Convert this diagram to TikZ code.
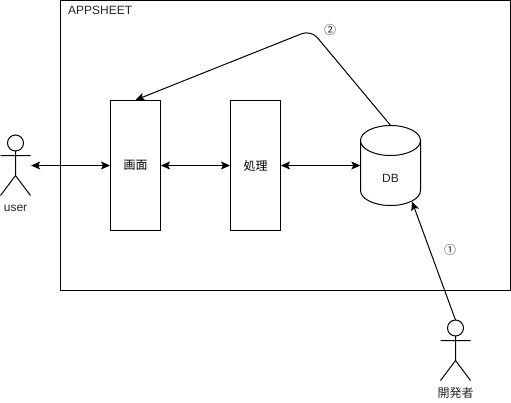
\documentclass[tikz,border=0pt]{standalone}
\usepackage{fontspec}
\setmainfont{Liberation Sans}
\newfontfamily\cjk{Noto Sans CJK JP}
\usetikzlibrary{arrows.meta}
\tikzset{
  box/.style={draw=black,line width=1pt,minimum width=50pt,minimum height=130pt,inner sep=0pt,font=\fontsize{12}{14}\selectfont\cjk},
  ghost/.style={inner sep=0pt,minimum width=#1},
  lbl/.style={inner sep=0pt,text=black!85,font=\fontsize{12}{14}\selectfont},
  cjklbl/.style={inner sep=0pt,text=black!85,font=\fontsize{12}{14}\selectfont\cjk},
  conn/.style={line width=1pt,draw=black},
  tip/.style={-{Stealth[length=9pt,width=8pt,inset=2pt]}},
  both/.style={{Stealth[length=9pt,width=8pt,inset=2pt]}-{Stealth[length=9pt,width=8pt,inset=2pt]}},
  figure/.style={line width=1pt,draw=black}
}
\begin{document}
\begin{tikzpicture}[x=1pt,y=-1pt]
\useasboundingbox (0,0) rectangle (511,402);
\fill[white] (0,0) rectangle (511,402);
% frame
\node[draw=black,line width=1pt,outer sep=0pt,minimum width=450pt,minimum height=290pt,inner sep=0pt,anchor=north west] (frame) at (60.5,0.5) {};
\node[lbl,anchor=west] (app) at (68,10) {APPSHEET};
% boxes
\node[box] (gamen) at (135.5,165.5) {画面};
\node[box] (shori) at (255.5,165.5) {処理};
% DB
\node[ghost=60pt,minimum height=80pt,lbl] (db) at (390.5,165.5) {};
\node[lbl] (dbl) at (390.5,178.5) {DB};
\draw[figure] (360.5,140.5) arc[start angle=180,end angle=360,x radius=30,y radius=15]
  (360.5,140.5) arc[start angle=180,end angle=0,x radius=30,y radius=15]
  -- (420.5,190.5) arc[start angle=0,end angle=180,x radius=30,y radius=15] -- cycle;
% actor user
\node[ghost=30pt,minimum height=65pt] (user) at (15.5,163) {};
\draw[figure] (15.5,143) circle[radius=8];
\draw[figure] (15.5,151) -- (15.5,175.5) (0.5,155.5) -- (30.5,155.5) (0.5,195.5) -- (15.5,175.5) -- (30.5,195.5);
\node[lbl] (userl) at (15.5,208.5) {user};
% actor dev
\node[ghost=30pt,minimum height=60pt,anchor=north] (dev) at (455.5,320) {};
\draw[figure] (455.5,328) circle[radius=8];
\draw[figure] (455.5,336) -- (455.5,360.5) (440.5,340.5) -- (470.5,340.5) (440.5,380.5) -- (455.5,360.5) -- (470.5,380.5);
\node[cjklbl] (devl) at (455.5,393) {開発者};
% connectors
\coordinate (uE) at (user.east |- gamen.west);
\coordinate (dbW) at (db.west |- gamen.west);
\coordinate (dbS) at (412,201.5);
\coordinate (bend) at (311,30);
\draw[conn,both] (uE) ++(0.5,0) -- (gamen.west);
\draw[conn,both] (gamen.east) -- (shori.west);
\draw[conn,both] (shori.east) -- (dbW);
\draw[conn,tip] (dev.north) -- (dbS);
\draw[conn,tip,rounded corners=10pt] (db.north) -- (bend) -- (gamen.north);
\node[cjklbl] (n1) at (450,250) {①};
\node[cjklbl] (n2) at (330,30) {②};
\end{tikzpicture}
\end{document}
